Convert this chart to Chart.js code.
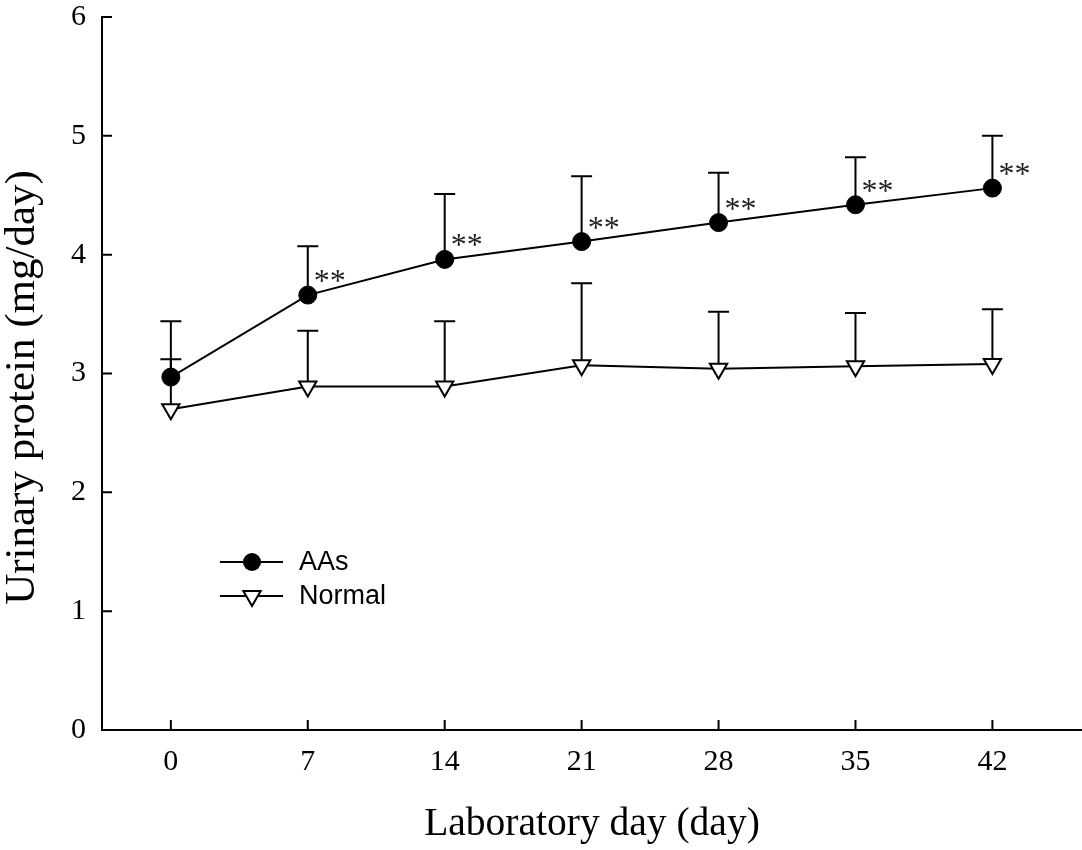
<!DOCTYPE html>
<html><head><meta charset="utf-8">
<script src="https://cdn.jsdelivr.net/npm/chart.js@4/dist/chart.umd.min.js"></script>
<style>html,body{margin:0;padding:0;background:#fff;}</style>
</head><body>
<canvas id="c" width="1082" height="850"></canvas>
<script>
// ---- data ----
const days = [0, 7, 14, 21, 28, 35, 42];
const xTickValues = [0, 7, 14, 21, 28, 35, 42];
const yTickValues = [0, 1, 2, 3, 4, 5, 6];
const aasMean = [2.97, 3.66, 3.96, 4.11, 4.27, 4.42, 4.56];
const aasErr = [0.47, 0.41, 0.55, 0.55, 0.42, 0.40, 0.44];
const aasSig = ['', '**', '**', '**', '**', '**', '**'];
const normalMean = [2.70, 2.89, 2.89, 3.07, 3.04, 3.06, 3.08];
const normalErr = [0.42, 0.47, 0.55, 0.69, 0.48, 0.45, 0.46];
const seriesNames = ['AAs', 'Normal'];
const xTitle = 'Laboratory day (day)';
const yTitle = 'Urinary protein (mg/day)';

const SERIF = '"Liberation Serif", "Times New Roman", serif';
const SANS = '"Liberation Sans", Arial, sans-serif';

const errorBars = {
  id: 'errorBars',
  beforeDatasetsDraw(chart) {
    const ctx = chart.ctx, xs = chart.scales.x, ys = chart.scales.y;
    const sets = [[aasMean, aasErr], [normalMean, normalErr]];
    ctx.save();
    ctx.strokeStyle = '#000';
    ctx.lineWidth = 2;
    sets.forEach(([m, e]) => {
      days.forEach((d, i) => {
        const x = xs.getPixelForValue(d);
        const y0 = ys.getPixelForValue(m[i]);
        const y1 = ys.getPixelForValue(m[i] + e[i]);
        ctx.beginPath();
        ctx.moveTo(x, y0); ctx.lineTo(x, y1);
        ctx.moveTo(x - 10.5, y1); ctx.lineTo(x + 10.5, y1);
        ctx.stroke();
      });
    });
    ctx.restore();
  }
};

const extras = {
  id: 'extras',
  afterDraw(chart) {
    const ctx = chart.ctx, xs = chart.scales.x, ys = chart.scales.y;
    const ca = chart.chartArea;
    ctx.save();
    // inward tick marks
    ctx.strokeStyle = '#000';
    ctx.lineWidth = 2;
    ctx.beginPath();
    yTickValues.forEach(v => {
      const y = ys.getPixelForValue(v);
      ctx.moveTo(ca.left, y); ctx.lineTo(ca.left + 10, y);
    });
    xTickValues.forEach(v => {
      const x = xs.getPixelForValue(v);
      ctx.moveTo(x, ca.bottom); ctx.lineTo(x, ca.bottom - 10);
    });
    ctx.stroke();
    // y-axis title
    ctx.save();
    ctx.translate(ys.left + 23, (ca.top + ca.bottom) / 2 + 14);
    ctx.rotate(-Math.PI / 2);
    ctx.fillStyle = '#000';
    ctx.font = '43px ' + SERIF;
    ctx.textAlign = 'center';
    ctx.textBaseline = 'middle';
    ctx.fillText(yTitle, 0, 0);
    ctx.restore();
    // significance marks
    ctx.fillStyle = '#222';
    ctx.font = '32px ' + SERIF;
    ctx.textAlign = 'left';
    ctx.textBaseline = 'alphabetic';
    days.forEach((d, i) => {
      if (!aasSig[i]) return;
      const x = xs.getPixelForValue(d);
      const y = ys.getPixelForValue(aasMean[i]);
      ctx.fillText(aasSig[i], x + 6, y - 19 + 15);
    });
    // legend
    const lx1 = 220, lx2 = 283, mx = 252, rows = [562, 596];
    rows.forEach((ry, k) => {
      ctx.strokeStyle = '#000';
      ctx.lineWidth = 2;
      ctx.beginPath(); ctx.moveTo(lx1, ry); ctx.lineTo(lx2, ry); ctx.stroke();
      if (k === 0) {
        ctx.fillStyle = '#000';
        ctx.beginPath(); ctx.arc(mx, ry, 9, 0, Math.PI * 2); ctx.fill();
      } else {
        const r = 10;
        ctx.fillStyle = '#fff';
        ctx.beginPath();
        ctx.moveTo(mx, ry + r);
        ctx.lineTo(mx - r * Math.sqrt(3) / 2, ry - r / 2);
        ctx.lineTo(mx + r * Math.sqrt(3) / 2, ry - r / 2);
        ctx.closePath();
        ctx.fill(); ctx.stroke();
      }
      ctx.fillStyle = '#000';
      ctx.font = '27px ' + SANS;
      ctx.textAlign = 'left';
      ctx.textBaseline = 'middle';
      ctx.fillText(seriesNames[k], 299, ry + 1);
    });
    ctx.restore();
  }
};

new Chart(document.getElementById('c'), {
  type: 'line',
  data: {
    datasets: [
      {
        label: seriesNames[0],
        data: days.map((d, i) => ({ x: d, y: aasMean[i] })),
        borderColor: '#000', borderWidth: 2, tension: 0,
        pointStyle: 'circle', pointRadius: 9,
        pointBackgroundColor: '#000', pointBorderColor: '#000', pointBorderWidth: 1
      },
      {
        label: seriesNames[1],
        data: days.map((d, i) => ({ x: d, y: normalMean[i] })),
        borderColor: '#000', borderWidth: 2, tension: 0,
        pointStyle: 'triangle', pointRotation: 180, pointRadius: 10,
        pointBackgroundColor: '#fff', pointBorderColor: '#000', pointBorderWidth: 2
      }
    ]
  },
  options: {
    responsive: false,
    animation: false,
    devicePixelRatio: 1,
    layout: { autoPadding: false, padding: { top: 17, left: 0, right: 0, bottom: 0 } },
    plugins: { legend: { display: false }, tooltip: { enabled: false } },
    scales: {
      x: {
        type: 'linear', min: -3.52, max: 46.58,
        afterBuildTicks: s => { s.ticks = xTickValues.map(v => ({ value: v })); },
        afterFit: s => { s.height = 120; s.paddingLeft = 0; s.paddingRight = 0; },
        grid: { display: true, drawOnChartArea: false, drawTicks: false },
        border: { display: true, color: '#000', width: 2 },
        ticks: { color: '#000', font: { family: SERIF, size: 30, lineHeight: 1.2 }, padding: 14, maxRotation: 0, autoSkip: false },
        title: { display: true, text: xTitle, color: '#000', font: { family: SERIF, size: 39.5, lineHeight: 1.2 }, padding: { top: 0, bottom: 2 } }
      },
      y: {
        type: 'linear', min: 0, max: 6,
        afterBuildTicks: s => { s.ticks = yTickValues.map(v => ({ value: v })); },
        afterFit: s => { s.width = 102; s.paddingTop = 0; s.paddingBottom = 0; },
        grid: { display: true, drawOnChartArea: false, drawTicks: false },
        border: { display: true, color: '#000', width: 2 },
        ticks: { color: '#000', font: { family: SERIF, size: 30, lineHeight: 1 }, padding: 16 },
        title: { display: false, text: yTitle }
      }
    }
  },
  plugins: [errorBars, extras]
});
</script>
</body></html>
